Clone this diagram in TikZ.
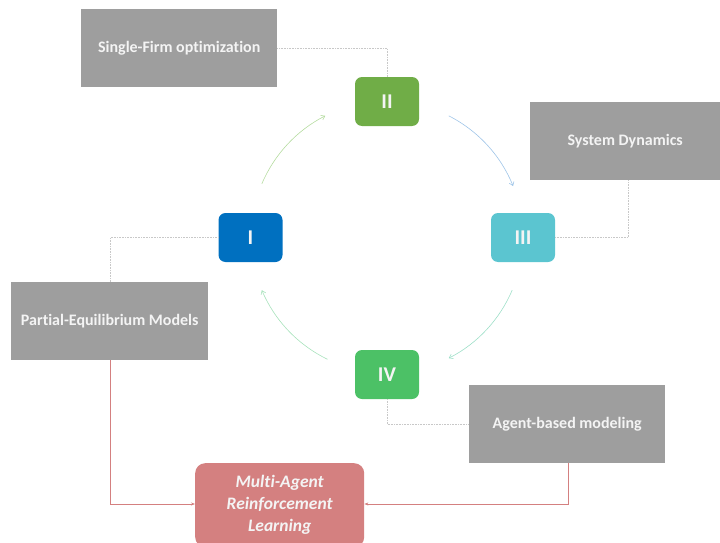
\documentclass[tikz,border=0pt]{standalone}
\usepackage{fontspec}
\setmainfont[Ligatures=NoCommon]{Carlito}
\usetikzlibrary{arrows.meta}
\definecolor{boxgray}{HTML}{9E9E9E}
\definecolor{txtw}{HTML}{F4F4F4}
\definecolor{cI}{HTML}{0070C0}
\definecolor{cII}{HTML}{70AD47}
\definecolor{cIII}{HTML}{5BC5D0}
\definecolor{cIV}{HTML}{4CC166}
\definecolor{cM}{HTML}{D48080}
\definecolor{dotg}{HTML}{C8C8C8}
\definecolor{aTL}{HTML}{B5DCA0}
\definecolor{aTR}{HTML}{9FC5E8}
\definecolor{aBR}{HTML}{9EDFC8}
\definecolor{aBL}{HTML}{A8E2BC}
\tikzset{
  graybox/.style={fill=boxgray, draw=none, minimum width=196pt, minimum height=78pt, inner sep=0pt, text=txtw, font=\fontsize{16}{18}\selectfont\bfseries},
  numbox/.style={fill=#1, draw=none, rounded corners=7pt, minimum width=64pt, minimum height=49pt, inner sep=0pt, text=txtw, font=\fontsize{21}{24}\selectfont\bfseries},
  dotcon/.style={draw=dotg, densely dotted, line width=0.6pt},
  redcon/.style={draw=cM, line width=0.8pt, -{Stealth[length=4pt,width=3pt]}},
  arcline/.style={draw=#1, line width=0.6pt, -{Straight Barb[length=3.5pt,width=5pt]}}
}
\begin{document}
\begin{tikzpicture}[x=1pt,y=-1pt]
\useasboundingbox (0,0) rectangle (720,543);
% gray boxes
\node[graybox, anchor=north west] (sf) at (81,9) {Single-Firm optimization};
\node[graybox, anchor=north west, minimum width=190pt] (sd) at (530,102) {System Dynamics};
\node[graybox, anchor=north west, minimum width=197pt] (pe) at (11,282) {Partial-Equilibrium Models};
\node[graybox, anchor=north west] (ab) at (469,385) {Agent-based modeling};
% numbered boxes
\node[numbox=cII] (n2) at (387,101.5) {II};
\node[numbox=cI] (n1) at (250.5,237.5) {I};
\node[numbox=cIII] (n3) at (523,237.5) {III};
\node[numbox=cIV] (n4) at (387,374.5) {IV};
% MARL
\node[fill=cM, rounded corners=10pt, anchor=north west, minimum width=169pt, minimum height=84pt, inner sep=0pt, text=txtw, align=center, font=\fontsize{17.5}{22}\selectfont\bfseries\itshape] (marl) at (195,463) {Multi-Agent\\Reinforcement\\Learning};
% dotted connectors
\coordinate (c1) at (n2.north |- sf.east);
\draw[dotcon] (sf.east) -- (c1) -- (n2.north);
\coordinate (c2) at (628,237.5);
\draw[dotcon] (sd.south -| c2) -- (c2) -- (n3.east);
\coordinate (c3) at (110,237.5);
\draw[dotcon] (n1.west) -- (c3) -- (pe.north -| c3);
\coordinate (c4) at (n4.south |- ab.west);
\draw[dotcon] (n4.south) -- (c4) -- (ab.west);
% red connectors
\coordinate (r1) at (110,504);
\draw[redcon] (pe.south -| r1) -- (r1) -- (marl.west |- r1);
\coordinate (r2) at (568,504);
\draw[redcon] (ab.south -| r2) -- (r2) -- (marl.east |- r2);
% cycle arcs
\coordinate (ctr) at (387,237);
\draw[arcline=aTL] ([shift={(-157:136)}]ctr) arc[start angle=-157, end angle=-117, radius=136];
\draw[arcline=aTR] ([shift={(-63:136)}]ctr) arc[start angle=-63, end angle=-22, radius=136];
\draw[arcline=aBR] ([shift={(23:136)}]ctr) arc[start angle=23, end angle=63, radius=136];
\draw[arcline=aBL] ([shift={(116:136)}]ctr) arc[start angle=116, end angle=157, radius=136];
\end{tikzpicture}
\end{document}
